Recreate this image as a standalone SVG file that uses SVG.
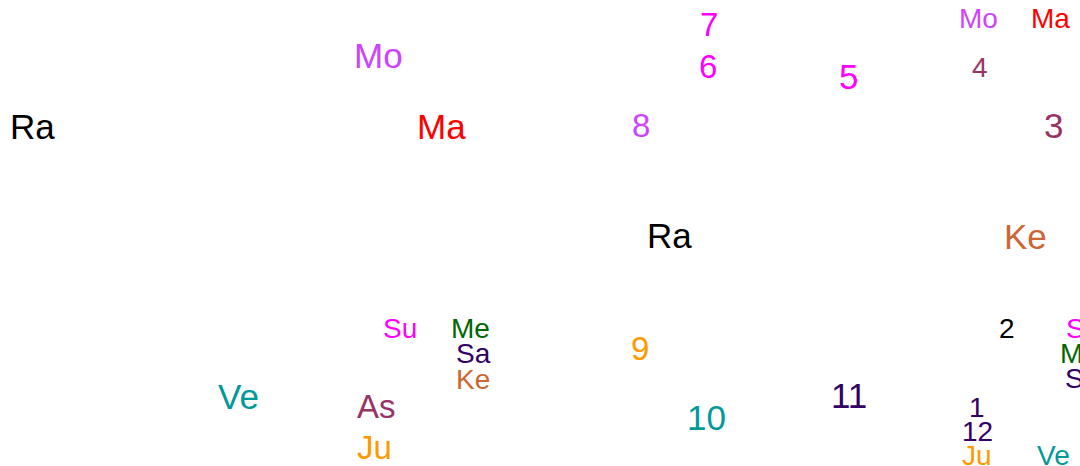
<svg xmlns="http://www.w3.org/2000/svg" width="1080" height="466" viewBox="0 0 1080 466">
<style>
text{font-family:"Liberation Sans",Arial,sans-serif}
.L{font-size:35px}.M{font-size:33px}.S{font-size:28px}
.blk{fill:#000000}.red{fill:#ff0000}.pur{fill:#cc44ff}.mag{fill:#ff00ff}.plum{fill:#993366}
.choc{fill:#cc6633}.grn{fill:#006600}.ind{fill:#330066}.org{fill:#ff9900}.teal{fill:#009999}
</style>
<rect width="1080" height="466" fill="#ffffff"/>
<g id="chart-left">
<g id="ra1"><text class="L blk" x="10" y="139">Ra</text></g>
<g id="mo1"><text class="L pur" x="354" y="68">Mo</text></g>
<g id="ma1"><text class="L red" x="417" y="139">Ma</text></g>
<g id="su1"><text class="S mag" x="383" y="338">Su</text></g>
<g id="me1"><text class="S grn" x="451" y="338">Me</text></g>
<g id="sa1"><text class="S ind" x="456" y="363">Sa</text></g>
<g id="ke1"><text class="S choc" x="456" y="389">Ke</text></g>
<g id="ve1"><text class="L teal" x="218" y="409">Ve</text></g>
<g id="as1"><text class="M plum" x="357" y="418">As</text></g>
<g id="ju1"><text class="M org" x="357" y="459">Ju</text></g>
</g>
<g id="chart-right">
<g id="h7"><text class="M mag" x="700" y="36">7</text></g>
<g id="h6"><text class="M mag" x="699" y="78">6</text></g>
<g id="h5"><text class="L mag" x="839" y="89">5</text></g>
<g id="h8"><text class="M pur" x="632" y="137">8</text></g>
<g id="mo2"><text class="S pur" x="959" y="28">Mo</text></g>
<g id="ma2"><text class="S red" x="1031" y="28">Ma</text></g>
<g id="h4"><text class="S plum" x="972" y="77">4</text></g>
<g id="h3"><text class="L plum" x="1044" y="138">3</text></g>
<g id="ra2"><text class="L blk" x="647" y="248">Ra</text></g>
<g id="ke2"><text class="L choc" x="1004" y="249">Ke</text></g>
<g id="h9"><text class="M org" x="631" y="360">9</text></g>
<g id="h10"><text class="L teal" x="687" y="430">10</text></g>
<g id="h11"><text class="L ind" x="831" y="408">11</text></g>
<g id="h2"><text class="S blk" x="999" y="338">2</text></g>
<g id="su2"><text class="S mag" x="1066" y="338">Su</text></g>
<g id="me2"><text class="S grn" x="1060" y="363">Me</text></g>
<g id="sa2"><text class="S ind" x="1065" y="388">Sa</text></g>
<g id="h1"><text class="S ind" x="969" y="417">1</text></g>
<g id="h12"><text class="S ind" x="962" y="441">12</text></g>
<g id="ju2"><text class="S org" x="962" y="465">Ju</text></g>
<g id="ve2"><text class="S teal" x="1037" y="465">Ve</text></g>
</g>
</svg>
